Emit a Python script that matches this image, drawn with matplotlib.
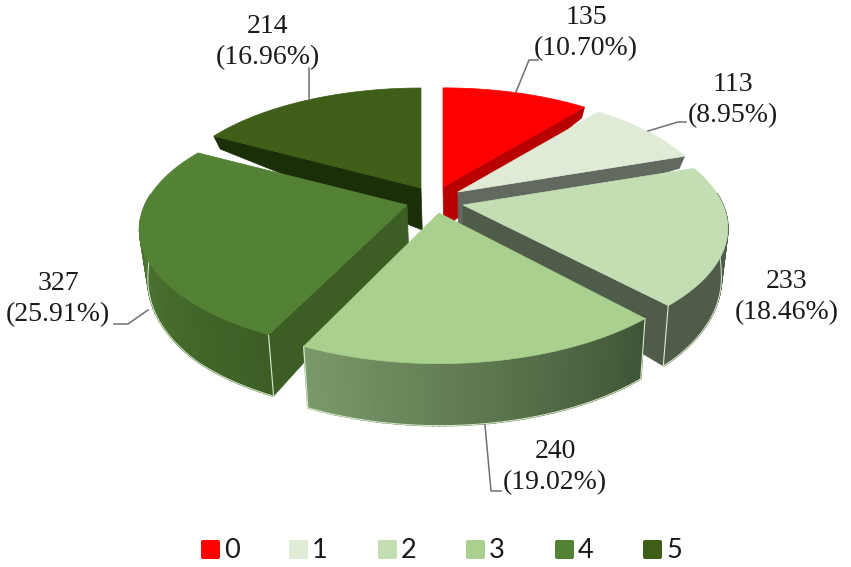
import numpy as np
import matplotlib
matplotlib.use('Agg')
import matplotlib.pyplot as plt
from matplotlib.colors import to_rgb
from matplotlib.patches import FancyBboxPatch

# data
categories = ['0', '1', '2', '3', '4', '5']
values = [135, 113, 233, 240, 327, 214]

# colours of the top faces and of the walls
top_colors = ['#ff0000', '#dfebd6', '#c4deb4', '#a9d08e', '#548235', '#3f5f18']
cut_colors = ['#b80000', '#62695e', '#505c4a', '#3c5526', '#3c5e25', '#1a2e08']
rim_left = ['#b80000', '#62695e', '#505c4a', '#7a9a6a', '#527e37', '#1a2e08']
rim_right = ['#b80000', '#62695e', '#505c4a', '#3f5435', '#3c5e25', '#1a2e08']

# layout of each exploded slice, in pixels
tip_x = [443, 458, 463, 439, 407, 421]
tip_y = [187, 192, 205, 213, 205, 188]
rim_a = [254, 252, 260, 270, 262, 254]
rim_b = [114, 114, 118, 128, 118, 115]
persp = [0.15, 0.15, 0.19, 0.15, 0.2, 0.15]
cut_side = [1, 1, 1, None, 0, 0]  # which radial wall can be seen
has_rim = [False, False, True, True, True, False]
draw_order = [0, 5, 1, 2, 4, 3]

# label layout
label_x = [586, 733, 787, 555, 58, 268]
label_y = [33, 100, 297, 467, 299, 42]
leader_x = [[516, 529, 538], [648, 678, 686], [], [485, 491, 501], [148, 128, 114], [309, 309]]
leader_y = [[92, 60, 60], [131, 122, 122], [], [425, 491, 491], [310, 324, 324], [100, 68]]
legend_x = [201, 289, 378, 466, 555, 643]


def rim_point(i, theta):
    sx, sy = np.sin(theta), np.cos(theta)
    s = 1 / (1 + persp[i] * sy)
    return tip_x[i] + rim_a[i] * sx * s, tip_y[i] - rim_b[i] * sy * s


def depth_point(x, y, d):
    return x + (470 - x) * 0.025, y + d


def rim_depth(theta):
    return np.interp(np.cos(theta), [-1, -0.7, -0.2, 0.3, 0.5, 1], [62, 60, 50, 12, 13, 9])


total = sum(values)
edges = np.radians(np.concatenate([[0], np.cumsum(values)]) / total * 360)

fig = plt.figure(figsize=(8.51, 5.67), dpi=100)
ax = fig.add_axes([0, 0, 1, 1])
ax.set_xlim(0, 851)
ax.set_ylim(567, 0)
ax.axis('off')

z = 1
for i in draw_order:
    t1, t2 = edges[i], edges[i + 1]
    thetas = np.linspace(t1, t2, 60)
    px, py = rim_point(i, thetas)

    # cut wall
    if cut_side[i] is not None:
        t = t2 if cut_side[i] == 1 else t1
        x, y = rim_point(i, t)
        x1, y1 = depth_point(x, y, rim_depth(t))
        x2, y2 = depth_point(tip_x[i], tip_y[i], 42)
        ax.fill([tip_x[i], x, x1, x2], [tip_y[i], y, y1, y2], color=cut_colors[i], lw=0.5, zorder=z)

    # outer wall, small quads so the shade can change along it
    if has_rim[i]:
        c_left, c_right = np.array(to_rgb(rim_left[i])), np.array(to_rgb(rim_right[i]))
        vis = np.cos(thetas) < 0.1
        tv = thetas[vis]
        vx, vy = rim_point(i, tv)
        qx, qy = depth_point(vx, vy, rim_depth(tv))
        for j in range(len(tv) - 1):
            f = (j + 0.5) / (len(tv) - 1)
            col = c_right * (1 - f) + c_left * f
            ax.fill([vx[j], vx[j + 1], qx[j + 1], qx[j]], [vy[j], vy[j + 1], qy[j + 1], qy[j]],
                    color=col, lw=1.2, zorder=z)
        ax.plot(qx, qy, color='#dcebd0', lw=0.7, zorder=z)
        # light line on the front corners only
        for k in (0, -1):
            if np.cos(tv[k]) < -0.3:
                ax.plot([vx[k], qx[k]], [vy[k], qy[k]], color='#dcebd0', lw=0.8, zorder=z)

    # top face
    ax.fill(np.r_[tip_x[i], px], np.r_[tip_y[i], py], color=top_colors[i], lw=0.5, zorder=z + 1)
    z += 2

# leader lines and labels
for i in range(len(values)):
    if leader_x[i]:
        ax.plot(leader_x[i], leader_y[i], color='#6f6f6f', lw=1.1, zorder=z)
    pct = values[i] / total * 100
    ax.text(label_x[i], label_y[i], f'{values[i]}\n({pct:.2f}%)', ha='center', va='center',
            fontsize=20, family='Liberation Serif', color='#1a1a1a', linespacing=1.3, zorder=z)

# legend
for i in range(len(categories)):
    ax.add_patch(FancyBboxPatch((legend_x[i] + 2, 542), 15, 15, boxstyle='round,pad=2,rounding_size=2',
                                fc=top_colors[i], ec='none'))
    ax.text(legend_x[i] + 23, 551, categories[i], ha='left', va='center', fontsize=19.5,
            family='Lato', color='#1a1a1a')

fig.savefig('out.png', dpi=100)
